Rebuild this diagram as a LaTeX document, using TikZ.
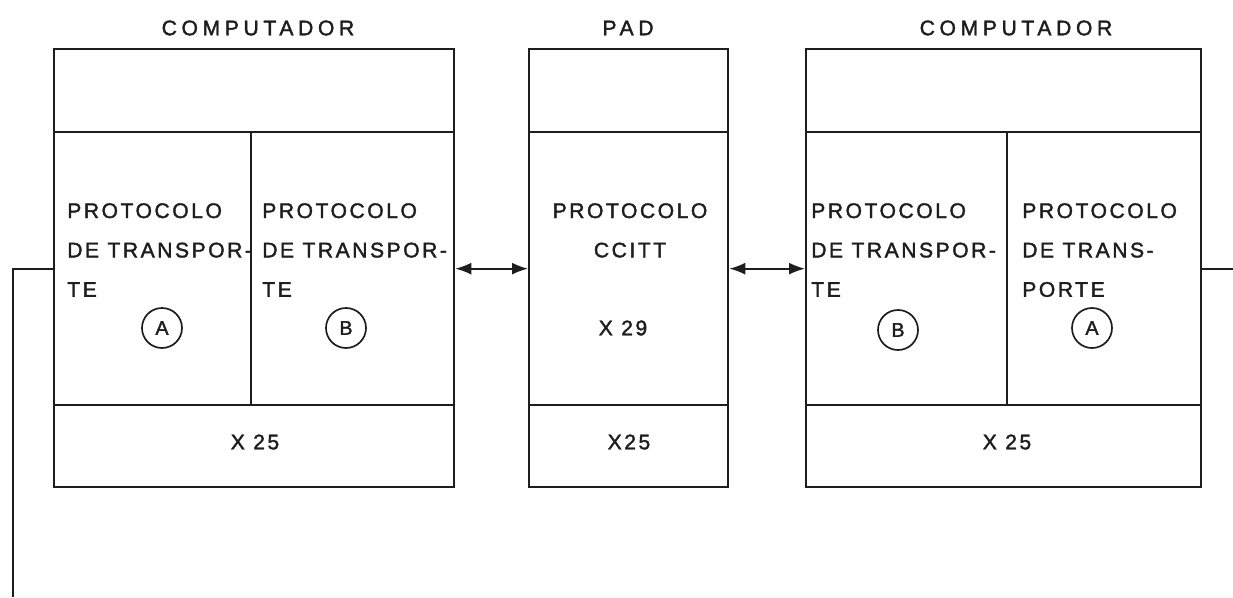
\documentclass[tikz,border=0pt]{standalone}
\usepackage{fontspec}
\setmainfont{Liberation Sans}
\newfontfamily\lettering[LetterSpace=12,FakeBold=1.8]{Liberation Sans}
\newfontfamily\titlefont[LetterSpace=22,FakeBold=1.8]{Liberation Sans}
\usetikzlibrary{arrows.meta}
\definecolor{ink}{HTML}{1E1E1E}
\tikzset{
  cell/.style={draw=ink, line width=1.6pt, anchor=north west, inner sep=0pt},
  txt/.style={anchor=north west, align=left, inner sep=0pt, text=ink,
    font=\lettering\fontsize{15}{28}\selectfont},
  circ/.style={draw=ink, circle, line width=1.2pt, minimum size=1cm, inner sep=0pt,
    text=ink, font=\lettering\fontsize{14}{14}\selectfont},
  heading/.style={inner sep=0pt, text=ink, font=\titlefont\fontsize{15}{16}\selectfont},
  wire/.style={draw=ink, line width=1.6pt},
  link/.style={draw=ink, line width=1.2pt,
    {Latex[length=0.4cm,width=0.3cm]}-{Latex[length=0.4cm,width=0.3cm]}}
}
\begin{document}
\begin{tikzpicture}[x=0.025cm,y=-0.025cm]
\useasboundingbox (0,0) rectangle (1233,597);
% computador A
\node[heading] (tit1) at (258,28) {COMPUTADOR};
\node[cell, minimum width=10cm, minimum height=2.075cm] (c1top) at (53,48) {};
\node[cell, minimum width=4.925cm, minimum height=6.825cm] (c1a) at (53,131) {};
\node[cell, minimum width=5.075cm, minimum height=6.825cm] (c1b) at (250,131) {};
\node[cell, minimum width=10cm, minimum height=2.05cm] (c1x) at (53,404) {};
\node[txt] (c1atxt) at (67,203) {PROTOCOLO\\DE TRANSPOR-\\TE};
\node[txt] (c1btxt) at (262,203) {PROTOCOLO\\DE TRANSPOR-\\TE};
\node[circ] (c1acirc) at (162,328) {A};
\node[circ] (c1bcirc) at (346,328) {B};
\node[txt, anchor=center] (c1xtxt) at (255,442) {X 25};
% pad
\node[heading] (tit2) at (628,28) {PAD};
\node[cell, minimum width=4.975cm, minimum height=2.075cm] (ptop) at (528,48) {};
\node[cell, minimum width=4.975cm, minimum height=6.825cm] (pmid) at (528,131) {};
\node[cell, minimum width=4.975cm, minimum height=2.05cm] (px) at (528,404) {};
\node[txt, anchor=north, align=center] (pmidtxt) at (630,203) {PROTOCOLO\\CCITT};
\node[txt, anchor=center] (pxtxt) at (623,328) {X 29};
\node[txt, anchor=center] (pbottxt) at (629,442) {X25};
% computador B
\node[heading] (tit3) at (1016,28) {COMPUTADOR};
\node[cell, minimum width=9.875cm, minimum height=2.075cm] (c2top) at (805,48) {};
\node[cell, minimum width=5.025cm, minimum height=6.825cm] (c2b) at (805,131) {};
\node[cell, minimum width=4.85cm, minimum height=6.825cm] (c2a) at (1006,131) {};
\node[cell, minimum width=9.875cm, minimum height=2.05cm] (c2x) at (805,404) {};
\node[txt] (c2btxt) at (811,203) {PROTOCOLO\\DE TRANSPOR-\\TE};
\node[txt] (c2atxt) at (1022,203) {PROTOCOLO\\DE TRANS-\\PORTE};
\node[circ] (c2bcirc) at (898,330) {B};
\node[circ] (c2acirc) at (1092,328) {A};
\node[txt, anchor=center] (c2xtxt) at (1007,442) {X 25};
% ligacoes
\draw[link] (c1b.east) -- (pmid.west);
\draw[link] (pmid.east) -- (c2b.west);
\coordinate (lend) at (13,597);
\coordinate (rend) at (1233,268);
\draw[wire] (c1a.west) -| (lend);
\draw[wire] (c2a.east) -- (c2a.east -| rend);
\end{tikzpicture}
\end{document}
